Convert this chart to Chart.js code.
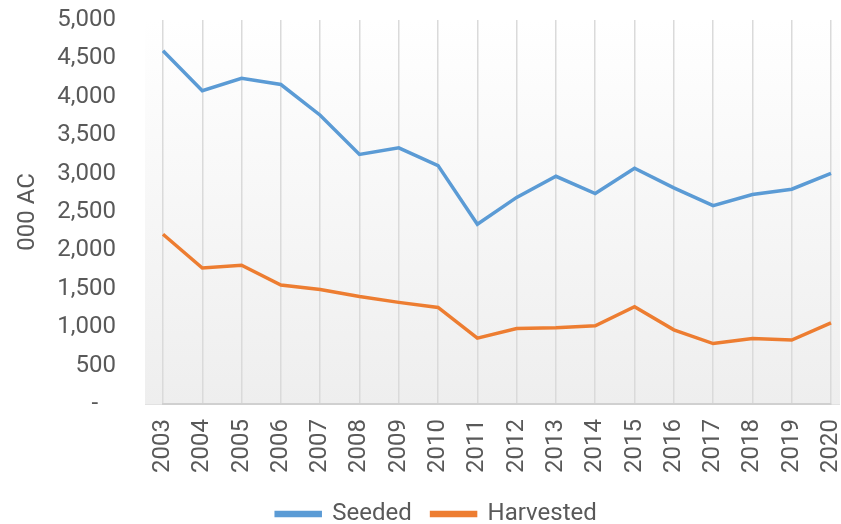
<!DOCTYPE html>
<html>
<head>
<meta charset="utf-8">
<script src="https://cdn.jsdelivr.net/npm/chart.js@4"></script>
<style>
  html, body { margin: 0; padding: 0; background: #ffffff; }
  #wrap { width: 841px; height: 524px; }
</style>
</head>
<body>
<div id="wrap"><canvas id="acresChart" width="841" height="524"></canvas></div>
<script>
const years = ['2003', '2004', '2005', '2006', '2007', '2008', '2009', '2010', '2011',
               '2012', '2013', '2014', '2015', '2016', '2017', '2018', '2019', '2020'];
const seeded = [4600, 4080, 4240, 4160, 3760, 3250, 3335, 3105, 2340,
                2690, 2965, 2740, 3070, 2815, 2583, 2728, 2797, 3003];
const harvested = [2210, 1771, 1806, 1550, 1490, 1400, 1323, 1257, 857,
                   983, 992, 1018, 1266, 966, 787, 852, 832, 1057];
const yTicks = [0, 500, 1000, 1500, 2000, 2500, 3000, 3500, 4000, 4500, 5000];

const textColor = '#595959';
const fontFamily = "Roboto, 'Liberation Sans', sans-serif";

// soft gradient panel behind the plot, a bit wider than the category span
const panelBackground = {
    id: 'panelBackground',
    beforeDraw(chart) {
        const { ctx, chartArea } = chart;
        const left = chartArea.left - 18;
        const right = chartArea.right + 9;
        const grad = ctx.createLinearGradient(0, chartArea.top, 0, chartArea.bottom);
        grad.addColorStop(0, '#ffffff');
        grad.addColorStop(1, '#eeeeee');
        ctx.save();
        ctx.fillStyle = grad;
        ctx.fillRect(left, chartArea.top, right - left, chartArea.bottom - chartArea.top);
        ctx.strokeStyle = '#e2e2e2';
        ctx.lineWidth = 1;
        ctx.beginPath();
        ctx.moveTo(left, chartArea.bottom + 0.5);
        ctx.lineTo(right, chartArea.bottom + 0.5);
        ctx.stroke();
        ctx.restore();
    }
};

// nudge the legend a little to the right, like the original
const legendShift = {
    id: 'legendShift',
    afterLayout(chart) {
        if (chart.legend) {
            chart.legend.left += 21;
            chart.legend.right += 21;
        }
    }
};

const ctx = document.getElementById('acresChart').getContext('2d');

new Chart(ctx, {
    type: 'line',
    data: {
        labels: years,
        datasets: [
            {
                label: 'Seeded',
                data: seeded,
                borderColor: '#5B9BD5',
                backgroundColor: '#5B9BD5',
                borderWidth: 3.5,
                pointRadius: 0,
                tension: 0
            },
            {
                label: 'Harvested',
                data: harvested,
                borderColor: '#ED7D31',
                backgroundColor: '#ED7D31',
                borderWidth: 3.5,
                pointRadius: 0,
                tension: 0
            }
        ]
    },
    options: {
        responsive: false,
        animation: false,
        layout: {
            padding: { top: 20, right: 10, bottom: -12, left: 0 }
        },
        scales: {
            x: {
                offset: false,
                grid: {
                    display: true,
                    color: '#dadada',
                    lineWidth: 1.5,
                    drawTicks: false
                },
                border: { display: true, color: '#d0d0d0', width: 2 },
                ticks: {
                    color: textColor,
                    font: { family: fontFamily, size: 24, lineHeight: 1 },
                    minRotation: 90,
                    maxRotation: 90,
                    padding: 15,
                    autoSkip: false
                },
                afterFit(scale) {
                    scale.height = 96;
                    scale.paddingLeft = 0;
                    scale.paddingRight = 0;
                    scale.paddingTop = 0;
                    scale.paddingBottom = 0;
                }
            },
            y: {
                min: 0,
                max: 5000,
                afterBuildTicks(scale) {
                    scale.ticks = yTicks.map(v => ({ value: v }));
                },
                grid: { display: false, drawTicks: false },
                border: { display: false },
                ticks: {
                    color: textColor,
                    font: { family: fontFamily, size: 24 },
                    padding: 47,
                    callback: (v) => v === 0 ? '-   ' : v.toLocaleString('en-US')
                },
                title: {
                    display: true,
                    text: '000 AC',
                    color: textColor,
                    font: { family: fontFamily, size: 24 },
                    padding: { top: 14, bottom: 0 }
                },
                afterFit(scale) {
                    scale.width = 163;
                    scale.paddingTop = 0;
                    scale.paddingBottom = 0;
                }
            }
        },
        plugins: {
            legend: {
                position: 'bottom',
                labels: {
                    color: textColor,
                    font: { family: fontFamily, size: 24 },
                    boxWidth: 44,
                    boxHeight: 3,
                    padding: 2,
                    generateLabels(chart) {
                        const items = Chart.defaults.plugins.legend.labels.generateLabels(chart);
                        items.forEach((it, i) => {
                            if (i < items.length - 1) it.text = it.text + '   ';
                        });
                        return items;
                    }
                }
            },
            tooltip: { enabled: false }
        }
    },
    plugins: [panelBackground, legendShift]
});
</script>
</body>
</html>
